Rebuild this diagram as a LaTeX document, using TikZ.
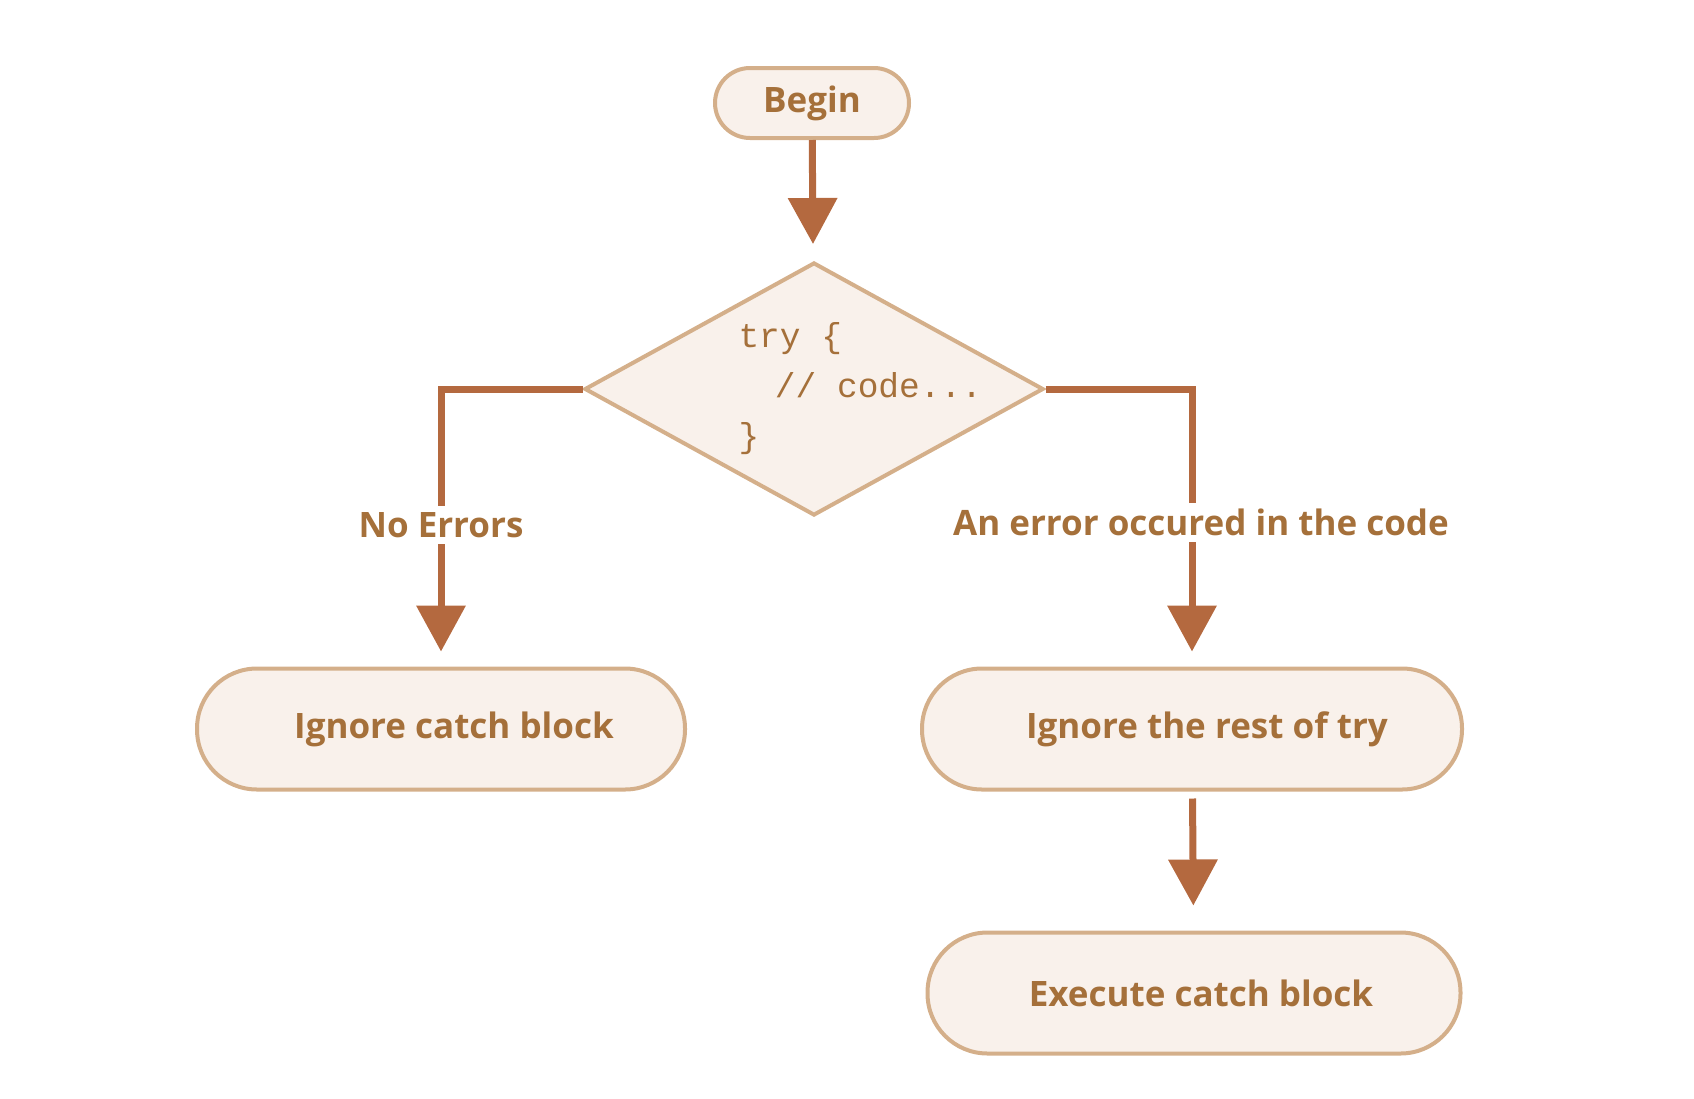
\documentclass[tikz,border=0pt]{standalone}
\usepackage{fontspec}
\setmainfont{Open Sans}
\newfontfamily\codefont{Liberation Mono}
\usepackage{tikz}
\usetikzlibrary{arrows.meta}
\usetikzlibrary{shapes.geometric}
\usepackage{xcolor}

\definecolor{arrowcol}{HTML}{B4693F}
\definecolor{bordercol}{HTML}{D4AF8A}
\definecolor{fillcol}{HTML}{F9F1EB}
\definecolor{textcol}{HTML}{A5703A}

\tikzset{
  pill/.style={draw=bordercol, fill=fillcol, line width=4pt, rounded corners=60pt,
    minimum height=121pt, inner sep=0pt, text=textcol,
    font=\fontsize{35}{40}\selectfont\bfseries},
  flow/.style={draw=arrowcol, line width=7pt, -{Triangle[width=48pt,length=46pt]},
    shorten >=15pt},
  flowlabel/.style={fill=white, text=textcol, inner sep=6pt,
    font=\fontsize{35}{40}\selectfont\bfseries}
}

\begin{document}
\begin{tikzpicture}[x=1pt, y=-1pt]
\useasboundingbox (0,0) rectangle (1694,1098);

% start and test
\node[pill, minimum width=194pt, minimum height=70pt, rounded corners=35pt] (begin) at (812,103) {Begin};
\node[diamond, draw=bordercol, fill=fillcol, line width=4pt, inner sep=0pt,
      minimum width=459pt, minimum height=253pt] (try) at (814,389) {};
\node[anchor=west, align=left, text=textcol, font=\fontsize{34.5}{50}\selectfont\codefont]
      (code) at (735,389) {try \{\\\hspace*{2ex}// code...\\\}};

% results
\node[pill, minimum width=488pt] (ignorecatch) at (441,729) {\hspace*{26pt}Ignore catch block};
\node[pill, minimum width=540pt] (ignorerest) at (1192,729) {\hspace*{30pt}Ignore the rest of try};
\node[pill, minimum width=533pt] (execcatch) at (1194,993) {\hspace*{14pt}Execute catch block};

% connectors
\draw[flow, shorten >=17pt] (begin) -- (try);
\draw[flow] (try.west) -| node[flowlabel, pos=0.745] (noerr) {No Errors} (ignorecatch.north);
\draw[flow] (try.east) -| node[flowlabel, pos=0.74, xshift=9pt] (err) {An error occured in the code} (ignorerest.north);
\draw[flow, shorten <=7pt, shorten >=25pt] (ignorerest) -- (execcatch);

\end{tikzpicture}
\end{document}
